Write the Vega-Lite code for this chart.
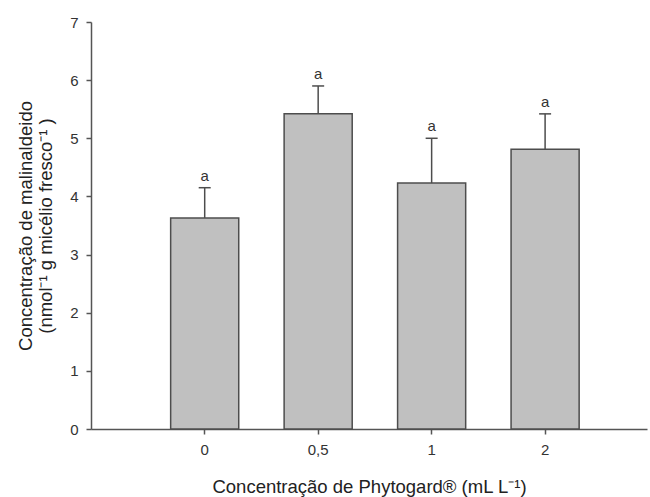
{
  "$schema": "https://vega.github.io/schema/vega-lite/v6.json",
  "width": 556,
  "height": 407,
  "autosize": "none",
  "padding": {"left": 91, "top": 22, "right": 3, "bottom": 68},
  "background": "white",
  "config": {
    "view": {"stroke": null},
    "font": "Liberation Sans",
    "axis": {
      "domainColor": "#555555",
      "domainWidth": 1.5,
      "tickColor": "#555555",
      "tickWidth": 1.5,
      "tickSize": 5,
      "labelColor": "#333333",
      "labelFontSize": 15,
      "labelFont": "Liberation Sans",
      "titleFont": "Liberation Sans",
      "titleFontSize": 18.5,
      "titleFontWeight": "normal",
      "titleColor": "#222222",
      "grid": false
    }
  },
  "data": {
    "values": [
      {"conc": "0", "mean": 3.63, "upper": 4.15, "letter": "a"},
      {"conc": "0,5", "mean": 5.42, "upper": 5.9, "letter": "a"},
      {"conc": "1", "mean": 4.23, "upper": 5.0, "letter": "a"},
      {"conc": "2", "mean": 4.81, "upper": 5.42, "letter": "a"}
    ]
  },
  "encoding": {
    "x": {
      "field": "conc",
      "type": "nominal",
      "sort": null,
      "scale": {"type": "band", "paddingInner": 0.4, "paddingOuter": 0.65, "align": 0.54},
      "axis": {
        "title": "Concentração de Phytogard® (mL L⁻¹)",
        "labelAngle": 0,
        "labelPadding": 8,
        "titlePadding": 20
      }
    }
  },
  "layer": [
    {
      "mark": {"type": "bar", "fill": "#c0c0c0", "stroke": "#4d4d4d", "strokeWidth": 1.5},
      "encoding": {
        "y": {
          "field": "mean",
          "type": "quantitative",
          "scale": {"domain": [0, 7], "nice": false},
          "axis": {
            "values": [0, 1, 2, 3, 4, 5, 6, 7],
            "format": "d",
            "title": ["Concentração de malinaldeido", "(nmol⁻¹  g micélio fresco⁻¹ )"],
            "titleLineHeight": 20,
            "labelPadding": 8,
            "titlePadding": 14
          }
        }
      }
    },
    {
      "mark": {"type": "rule", "stroke": "#4d4d4d", "strokeWidth": 1.5},
      "encoding": {
        "y": {"field": "mean", "type": "quantitative"},
        "y2": {"field": "upper"}
      }
    },
    {
      "mark": {"type": "tick", "color": "#4d4d4d", "thickness": 1.5, "size": 12, "orient": "horizontal", "opacity": 1},
      "encoding": {
        "y": {"field": "upper", "type": "quantitative"}
      }
    },
    {
      "mark": {"type": "text", "dy": -12, "fontSize": 15, "color": "#333333", "font": "Liberation Sans"},
      "encoding": {
        "y": {"field": "upper", "type": "quantitative"},
        "text": {"field": "letter"}
      }
    }
  ]
}
